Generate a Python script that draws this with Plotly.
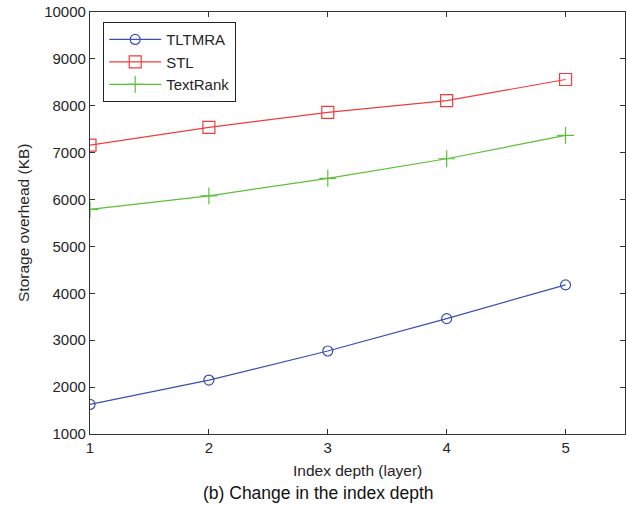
import plotly.graph_objects as go

depth = [1, 2, 3, 4, 5]
tltmra = [1630, 2150, 2770, 3460, 4180]
stl = [7160, 7540, 7860, 8110, 8560]
textrank = [5790, 6080, 6450, 6870, 7370]

x_ticks = [1, 2, 3, 4, 5]
y_ticks = list(range(1000, 10001, 1000))

font_family = "Liberation Sans, Arial, sans-serif"
text_color = "#262626"

fig = go.Figure()
fig.add_trace(go.Scatter(
    x=depth, y=tltmra, name="TLTMRA", mode="lines+markers",
    line=dict(color="#3a4fb0", width=1.2),
    marker=dict(symbol="circle-open", size=10, color="#3a4fb0", line=dict(width=1.2)),
))
fig.add_trace(go.Scatter(
    x=depth, y=stl, name="STL", mode="lines+markers",
    line=dict(color="#f03c3c", width=1.2),
    marker=dict(symbol="square-open", size=12, color="#f03c3c", line=dict(width=1.2)),
))
fig.add_trace(go.Scatter(
    x=depth, y=textrank, name="TextRank", mode="lines+markers",
    line=dict(color="#5cbf3a", width=1.2),
    marker=dict(symbol="cross-thin-open", size=12, color="#5cbf3a", line=dict(width=1.2)),
))

axis_common = dict(
    showline=True, linecolor="#333333", linewidth=1.3, mirror="ticks",
    ticks="inside", ticklen=5, tickcolor="#333333", tickwidth=1,
    showgrid=False, zeroline=False,
    tickfont=dict(family=font_family, size=15, color=text_color),
)

fig.update_layout(
    width=627, height=505,
    margin=dict(l=90, r=2, t=12, b=71),
    paper_bgcolor="white", plot_bgcolor="white",
    showlegend=True,
    legend=dict(
        x=(103 - 90) / 535, y=1 - (22 - 12) / 422, xanchor="left", yanchor="top",
        bordercolor="#222222", borderwidth=1.2, bgcolor="white",
        font=dict(family=font_family, size=15, color=text_color),
        itemwidth=52, tracegroupgap=0,
    ),
    xaxis=dict(range=[1, 5.5], tickvals=x_ticks, ticktext=[str(v) for v in x_ticks], **axis_common),
    yaxis=dict(range=[1000, 10000], tickvals=y_ticks, ticktext=[str(v) for v in y_ticks], **axis_common),
    annotations=[
        dict(text="Index depth (layer)", xref="paper", yref="paper", x=0.5, y=0,
             xanchor="center", yanchor="middle", yshift=-36, showarrow=False,
             font=dict(family=font_family, size=15.5, color=text_color)),
        dict(text="Storage overhead (KB)", xref="paper", yref="paper", x=0, y=0.5,
             xanchor="center", yanchor="middle", xshift=-67, textangle=-90, showarrow=False,
             font=dict(family=font_family, size=15.5, color=text_color)),
        dict(text="(b) Change in the index depth", xref="paper", yref="paper",
             x=(318 - 90) / 535, y=0, xanchor="center", yanchor="middle", yshift=-59,
             showarrow=False, font=dict(family=font_family, size=17.5, color="#111111")),
    ],
)

post = (
    "document.body.style.margin='0';"
    "document.body.style.padding='0';"
    "document.body.style.overflow='hidden';"
    "document.documentElement.style.overflow='hidden';"
    "window.dispatchEvent(new Event('resize'));"
)

fig.write_html("out.html", post_script=post,
               config={"responsive": False, "displayModeBar": False})
